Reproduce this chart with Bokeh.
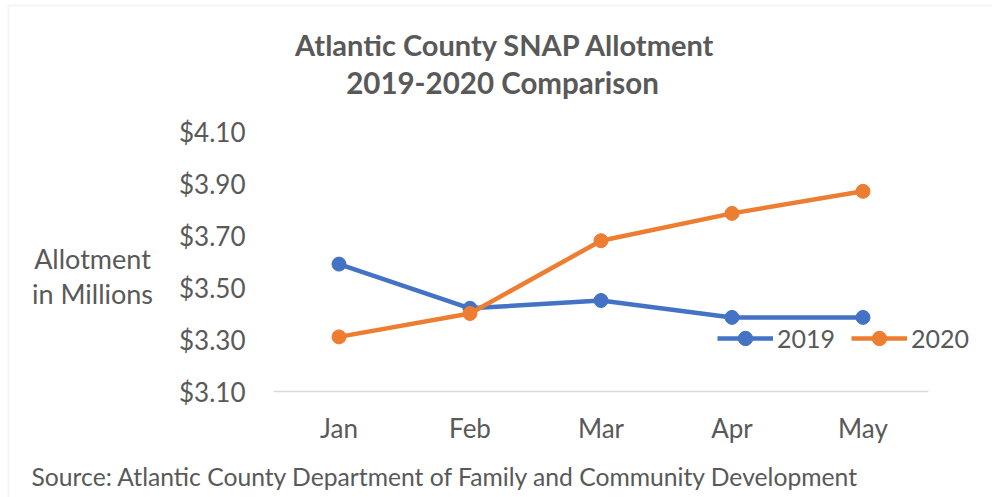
from bokeh.plotting import figure
from bokeh.models import (Legend, LegendItem, Range1d, Label, BoxAnnotation,
                          NumeralTickFormatter, FixedTicker)
from bokeh.embed import file_html
from bokeh.resources import INLINE

months = ["Jan", "Feb", "Mar", "Apr", "May"]
y2019 = [3.59, 3.42, 3.45, 3.385, 3.385]
y2020 = [3.31, 3.40, 3.68, 3.785, 3.87]
yticks = [3.10, 3.30, 3.50, 3.70, 3.90, 4.10]
title_lines = ["Atlantic County SNAP Allotment", "2019-2020 Comparison"]
ylabel_lines = ["Allotment", "in Millions"]
source_text = "Source: Atlantic County Department of Family and Community Development"

FONT = "Lato"
GREY = "#595959"
BLUE = "#4472C4"
ORANGE = "#ED7D31"

# page geometry (pixels): plot area left / bottom / top, band width
W, H = 992, 497
PL, PB, PT = 273, 391, 131
BAND = 131.0

xs = list(range(len(months)))
x0 = -0.5
ppu_y = (PB - PT) / (yticks[-1] - yticks[0])
x_range = Range1d(x0 - PL / BAND, x0 + (W - PL) / BAND)
y_range = Range1d(yticks[0] - (H - PB) / ppu_y, yticks[0] + PB / ppu_y)

p = figure(width=W, height=H, x_range=x_range, y_range=y_range,
           output_backend="svg", toolbar_location=None,
           min_border_left=0, min_border_right=0, min_border_top=0,
           min_border_bottom=0)
p.outline_line_color = None
p.grid.visible = False
p.background_fill_color = "white"
p.border_fill_color = "white"

yax = p.yaxis[0]
yax.fixed_location = x0
yax.ticker = FixedTicker(ticks=yticks)
yax.formatter = NumeralTickFormatter(format="$0.00")
yax.axis_line_color = None
yax.major_tick_line_color = None
yax.minor_tick_line_color = None
yax.major_tick_out = 0
yax.major_label_standoff = 28
yax.major_label_text_font = FONT
yax.major_label_text_font_size = "26px"
yax.major_label_text_color = GREY

xax = p.xaxis[0]
xax.fixed_location = yticks[0]
xax.ticker = FixedTicker(ticks=xs)
xax.major_label_overrides = {i: m for i, m in zip(xs, months)}
xax.bounds = (x0, len(months) - 0.5)
xax.axis_line_color = "#d9d9d9"
xax.axis_line_width = 1.5
xax.major_tick_line_color = None
xax.minor_tick_line_color = None
xax.major_tick_out = 0
xax.major_label_standoff = 20
xax.major_label_text_font = FONT
xax.major_label_text_font_size = "26px"
xax.major_label_text_color = GREY

l1 = p.line(xs, y2019, line_color=BLUE, line_width=4.5)
s1 = p.scatter(xs, y2019, size=14, fill_color=BLUE, line_color=BLUE)
l2 = p.line(xs, y2020, line_color=ORANGE, line_width=4.5)
s2 = p.scatter(xs, y2020, size=14, fill_color=ORANGE, line_color=ORANGE)

legend = Legend(items=[LegendItem(label="2019", renderers=[l1, s1]),
                       LegendItem(label="2020", renderers=[l2, s2])],
                orientation="horizontal", location=(717, H - 356),
                label_text_font=FONT, label_text_font_size="25px",
                label_text_color=GREY, glyph_width=56, glyph_height=36,
                label_standoff=4, spacing=16, padding=0, margin=0,
                border_line_color=None, background_fill_alpha=0)
p.add_layout(legend, "center")

SHIFT = 11  # renderer places alphabetic baseline slightly lower


def lab(text, x, y, size, bold=False, align="center"):
    # x, y: page pixels (top-left origin, y = text baseline)
    p.add_layout(Label(x=x, y=H - y + SHIFT, x_units="screen", y_units="screen",
                       text=text, text_font=FONT, text_font_size=size,
                       text_font_style="bold" if bold else "normal",
                       text_color=GREY, text_align=align,
                       text_baseline="alphabetic"))


lab(title_lines[0], 505, 55, "29px", bold=True)
lab(title_lines[1], 502, 93, "29.5px", bold=True)
lab(ylabel_lines[0], 92, 269, "27px")
lab(ylabel_lines[1], 92, 304, "27px")
lab(source_text, 31, 487, "24.7px", align="left")

# light chart border (top and left edges visible)
p.add_layout(BoxAnnotation(left=8, right=W + 20, top=H - 5, bottom=-20,
                           left_units="screen", right_units="screen",
                           top_units="screen", bottom_units="screen",
                           fill_alpha=0, line_color="#d9d9d9", line_width=2))

open("out.html", "w").write(file_html(p, INLINE))
